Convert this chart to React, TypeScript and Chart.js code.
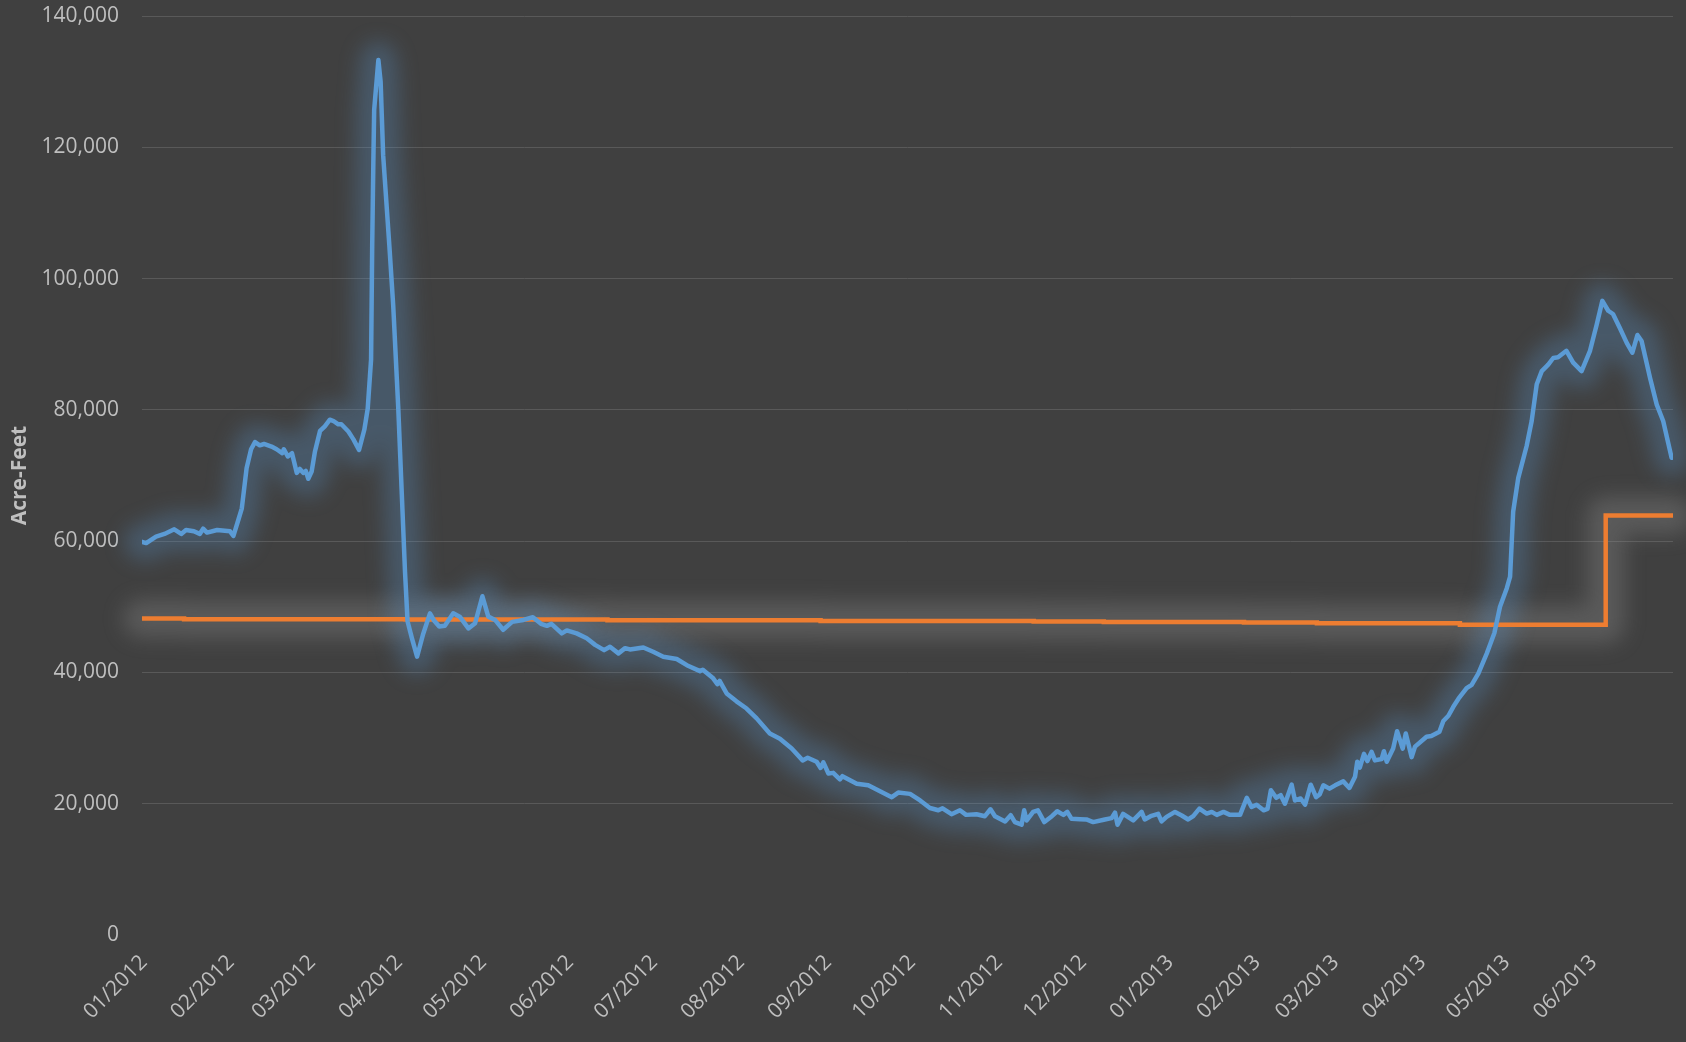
import React, { useEffect, useRef } from 'react';
import { Chart, registerables } from 'chart.js';

Chart.register(...registerables);

// Month ticks: days since 2012-01-01
const tickDays = [0, 31, 60, 91, 121, 152, 182, 213, 244, 274, 305, 335, 366, 397, 425, 456, 486, 517];
const tickLabels = [
  '01/2012', '02/2012', '03/2012', '04/2012', '05/2012', '06/2012', '07/2012', '08/2012', '09/2012',
  '10/2012', '11/2012', '12/2012', '01/2013', '02/2013', '03/2013', '04/2013', '05/2013', '06/2013',
];

// Blue series (days since 2012-01-01, acre-feet)
const blueDays = [
  0, 1.5, 5, 8, 11.5, 14, 15.7, 18.5, 20.6, 21.8, 23.2, 26.8, 31.4, 32.6, 34.4, 35.6, 37.3, 38.9, 40.3, 42,
  43.5, 46.2, 48, 50, 50.6, 52, 53.5, 55.2, 56.3, 57.5, 58.4, 59.3, 60.5, 61.7, 63.5, 65.2, 67, 68.3, 70, 71.1,
  73.6, 75.4, 77.4, 79.3, 80.5, 81.7, 82.1, 82.5, 82.8, 84.3, 85.1, 86, 88.2, 89.6, 91.4, 92.6, 93.8, 94.7, 96.2, 98.1,
  100.3, 102.7, 104, 106, 108, 111, 113.3, 116.4, 118.8, 121.4, 123.5, 125.9, 128.8, 132, 136, 139.4, 142.3, 144.4, 146, 149.7,
  151.5, 155, 158.6, 161.6, 164.8, 166.9, 169.9, 172.3, 174, 178.8, 182.3, 185.9, 190.7, 194.3, 199, 200, 203.7, 205.2, 206, 208.5,
  212, 215.6, 219.2, 223.9, 227.5, 231.7, 235.6, 237.4, 240.6, 242, 243, 244.8, 246.5, 248.9, 249.8, 254.9, 259, 263.2, 267.4, 269.7,
  273.9, 277.5, 281, 284, 285.5, 288.7, 291.7, 293.9, 297.6, 300.6, 302.6, 304.2, 307.8, 309.8, 311.3, 313.7, 314.6, 315.5, 317.8, 319.5,
  321.8, 324.5, 326.4, 328.6, 330, 331.5, 334.5, 336.8, 339.2, 343.4, 345.8, 347, 347.9, 349.9, 353.5, 356.5, 357.6, 359.7, 362.4, 363.6,
  365.4, 368.4, 370.8, 373.1, 374.9, 377.1, 379.7, 381.5, 383.3, 385.7, 388, 391.6, 394, 395.7, 397.5, 400, 401.4, 402.6, 404.5, 406.1,
  407.6, 410, 411.2, 413.2, 414.8, 416.8, 418.7, 420, 421.3, 423.5, 425.5, 428.4, 430.6, 432.6, 433.4, 434.3, 435.8, 437, 438.5, 439.7,
  442.1, 442.9, 443.9, 446.2, 447.6, 449.6, 450.7, 452.8, 454, 458.1, 459.8, 462.7, 464.1, 465.9, 467.7, 469.5, 472.4, 474.2, 476.6, 479.6,
  482.3, 484.3, 486.7, 487.9, 489, 490.8, 493.8, 495.6, 497.4, 499.2, 501.5, 503.3, 505, 508, 510.4, 513.4, 516.4, 518.8, 520.8, 522.9,
  524.6, 527, 529.5, 531.5, 533.3, 534.8, 537.8, 540.2, 542.5, 545.5,
];
const blueValues = [
  59900, 59700, 60700, 61100, 61800, 61100, 61700, 61500, 61100, 61900, 61300, 61700, 61500, 60800, 63300, 65000, 71100, 74000, 75100, 74600,
  74800, 74400, 74000, 73400, 74000, 72900, 73400, 70400, 71000, 70400, 70700, 69500, 70600, 73700, 76800, 77500, 78500, 78300, 77800, 77800,
  76700, 75500, 73900, 77000, 80200, 87700, 105100, 117600, 125700, 133300, 130000, 118800, 105100, 95800, 80200, 67700, 55300, 47800, 45300, 42400,
  45900, 49000, 48000, 47000, 47100, 49000, 48500, 46700, 47500, 51600, 48500, 48000, 46500, 47700, 48000, 48400, 47400, 47100, 47400, 45950,
  46400, 45950, 45200, 44200, 43400, 43900, 42900, 43700, 43500, 43800, 43150, 42400, 42050, 41100, 40200, 40400, 39100, 38200, 38700, 36800,
  35600, 34500, 33000, 30700, 29900, 28400, 26600, 27000, 26400, 25450, 26300, 24600, 24700, 23700, 24200, 23050, 22800, 21900, 21000, 21700,
  21500, 20500, 19350, 19000, 19300, 18400, 19000, 18300, 18400, 18100, 19150, 18100, 17300, 18250, 17200, 16800, 19000, 17450, 18750, 19000,
  17200, 18100, 18850, 18300, 18750, 17700, 17650, 17600, 17200, 17600, 17800, 18650, 16800, 18450, 17450, 18750, 17600, 18100, 18450, 17300,
  18000, 18750, 18200, 17600, 18100, 19250, 18500, 18750, 18300, 18750, 18300, 18300, 20900, 19500, 19850, 19000, 19200, 22050, 20900, 21300,
  20000, 22900, 20500, 20800, 19850, 22900, 21000, 21400, 22800, 22300, 22800, 23400, 22400, 24100, 26400, 25500, 27600, 26500, 27900, 26600,
  26800, 28000, 26400, 28400, 31050, 28400, 30700, 27100, 28700, 30200, 30300, 30950, 32600, 33400, 34800, 36000, 37600, 38100, 39850, 42900,
  46000, 50000, 52800, 54600, 64500, 69600, 74500, 78300, 83900, 85900, 86900, 87900, 88000, 89000, 87200, 85900, 89000, 93000, 96600, 95100,
  94600, 92500, 90200, 88700, 91400, 90500, 84900, 80800, 78300, 72700,
];

// Orange series (step changes)
const orangeDays = [0, 15, 94, 166, 242, 318, 343, 393, 419, 470, 522, 546];
const orangeValues = [48200, 48100, 48050, 47950, 47850, 47750, 47700, 47600, 47500, 47250, 63900, 63900];

const yTicksMax = 140000;
const yTickStep = 20000;

const TEXT = '#bfbfbf';
const FONT = 'Open Sans';

// Draws a soft halo behind every dataset before the lines themselves are drawn
const glowPlugin = {
  id: 'glow',
  beforeDatasetsDraw(chart: any) {
    const ctx = chart.ctx;
    const n = chart.data.datasets.length;
    for (let i = n - 1; i >= 0; i--) {
      const ds: any = chart.data.datasets[i];
      const meta = chart.getDatasetMeta(i);
      if (!ds.glowColor || !meta || !meta.dataset) continue;
      ctx.save();
      ctx.filter = `blur(${ds.glowBlur}px)`;
      ctx.strokeStyle = ds.glowColor;
      ctx.lineWidth = ds.glowWidth;
      ctx.lineJoin = 'round';
      ctx.lineCap = 'round';
      ctx.beginPath();
      try {
        meta.dataset.path(ctx);
      } catch (e) {
        const pts = meta.data;
        pts.forEach((p: any, k: number) => (k === 0 ? ctx.moveTo(p.x, p.y) : ctx.lineTo(p.x, p.y)));
      }
      ctx.stroke();
      ctx.restore();
    }
  },
};

export default function App() {
  const ref = useRef<HTMLCanvasElement | null>(null);

  useEffect(() => {
    document.body.style.margin = '0';
    document.body.style.background = '#404040';
    const canvas = ref.current;
    if (!canvas) return;
    const blueData = blueDays.map((d, i) => ({ x: d, y: blueValues[i] }));
    const orangeData = orangeDays.map((d, i) => ({ x: d, y: orangeValues[i] }));
    const chart = new Chart(canvas, {
      type: 'line',
      data: {
        datasets: [
          {
            label: 'Storage',
            data: blueData,
            borderColor: '#5B9BD5',
            borderWidth: 4.5,
            pointRadius: 0,
            tension: 0,
            borderJoinStyle: 'round',
            borderCapStyle: 'round',
            glowColor: 'rgba(91,155,213,0.27)',
            glowWidth: 36,
            glowBlur: 10,
          } as any,
          {
            label: 'Target',
            data: orangeData,
            borderColor: '#ED7D31',
            borderWidth: 4.5,
            pointRadius: 0,
            stepped: true,
            glowColor: 'rgba(150,150,150,0.3)',
            glowWidth: 38,
            glowBlur: 10,
          } as any,
        ],
      },
      options: {
        responsive: false,
        animation: false,
        maintainAspectRatio: false,
        layout: { padding: { top: 16, right: 13, left: 0, bottom: 0 } },
        plugins: { legend: { display: false }, tooltip: { enabled: false } },
        scales: {
          x: {
            type: 'linear',
            min: 0,
            max: 546,
            grid: { display: false },
            border: { display: false },
            afterBuildTicks: (scale: any) => {
              scale.ticks = tickDays.map((v) => ({ value: v }));
            },
            afterFit: (scale: any) => {
              scale.height = 107;
              scale.paddingLeft = 0;
              scale.paddingRight = 0;
            },
            ticks: {
              autoSkip: false,
              maxRotation: 45,
              minRotation: 45,
              color: TEXT,
              padding: 7,
              labelOffset: 2,
              font: { family: FONT, size: 21 },
              callback: (v: any) => {
                const i = tickDays.indexOf(Number(v));
                return i >= 0 ? tickLabels[i] : '';
              },
            },
          },
          y: {
            min: 0,
            max: yTicksMax,
            grid: {
              color: (c: any) => (c.tick && c.tick.value === 0 ? 'rgba(0,0,0,0)' : '#595959'),
              drawTicks: false,
              lineWidth: 1,
            },
            border: { display: false },
            afterFit: (scale: any) => {
              scale.width = 142;
              scale.paddingTop = 0;
              scale.paddingBottom = 0;
            },
            title: {
              display: true,
              text: 'Acre-Feet',
              color: TEXT,
              font: { family: FONT, size: 21, weight: 'bold' },
              padding: { top: 7, bottom: 0 },
            },
            ticks: {
              stepSize: yTickStep,
              color: TEXT,
              padding: 23,
              font: { family: FONT, size: 21 },
              callback: (v: any) => Number(v).toLocaleString('en-US'),
            },
          },
        },
      } as any,
      plugins: [glowPlugin],
    });
    return () => chart.destroy();
  }, []);

  return (
    <div style={{ position: 'absolute', left: 0, top: 0, width: 1686, height: 1042, background: '#404040' }}>
      <canvas ref={ref} width={1686} height={1042} style={{ display: 'block' }} />
    </div>
  );
}
